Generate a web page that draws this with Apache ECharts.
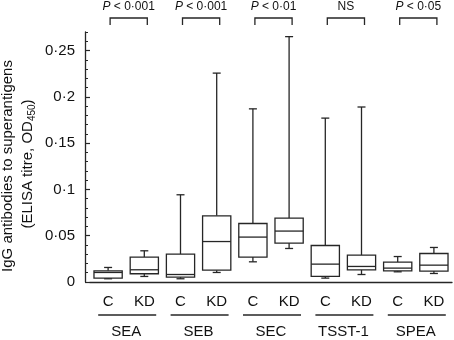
<!DOCTYPE html>
<html>
<head>
<meta charset="utf-8">
<script src="https://cdn.jsdelivr.net/npm/echarts@6/dist/echarts.min.js"></script>
<style>
  html, body { margin: 0; padding: 0; background: #fff; }
  #chart { width: 454px; height: 340px; }
</style>
</head>
<body>
<div id="chart"></div>
<script>
// categories along the x axis (control / Kawasaki disease for each antigen)
const categories = ['C', 'KD', 'C', 'KD', 'C', 'KD', 'C', 'KD', 'C', 'KD']
const groups = ['SEA', 'SEB', 'SEC', 'TSST-1', 'SPEA']
const pLabels = ['{i|P} < 0·001', '{i|P} < 0·001', '{i|P} < 0·01', 'NS', '{i|P} < 0·05']

// box statistics
const whiskerLow  = [0.0035, 0.0060, 0.0035, 0.0103, 0.0218, 0.0362, 0.0042, 0.0081, 0.0110, 0.0092]
const q1          = [0.0042, 0.0089, 0.0053, 0.0128, 0.0269, 0.0420, 0.0060, 0.0132, 0.0121, 0.0118]
const median      = [0.0103, 0.0132, 0.0081, 0.0437, 0.0485, 0.0550, 0.0193, 0.0168, 0.0150, 0.0182]
const q3          = [0.0121, 0.0269, 0.0301, 0.0715, 0.0632, 0.0690, 0.0394, 0.0290, 0.0215, 0.0308]
const whiskerHigh = [0.0157, 0.0337, 0.0942, 0.2256, 0.1870, 0.2650, 0.1770, 0.1890, 0.0275, 0.0373]

const yTicks = [0, 0.05, 0.1, 0.15, 0.2, 0.25]
const yMax = 0.27

const FONT = '"Liberation Sans", Arial, sans-serif'
const INK = '#262626'
const TEXT = '#111'

const boxData = categories.map((c, i) => [i, whiskerLow[i], q1[i], median[i], q3[i], whiskerHigh[i]])

function renderBox(params, api) {
  const x = api.value(0)
  const pLow = api.coord([x, api.value(1)])
  const pQ1 = api.coord([x, api.value(2)])
  const pMed = api.coord([x, api.value(3)])
  const pQ3 = api.coord([x, api.value(4)])
  const pHigh = api.coord([x, api.value(5)])
  const cx = pLow[0]
  const bw = api.size([1, 0])[0] * 0.78
  const cap = 4
  const st = { stroke: INK, lineWidth: 1.3, fill: null }
  return {
    type: 'group',
    children: [
      { type: 'line', shape: { x1: cx, y1: pQ3[1], x2: cx, y2: pHigh[1] }, style: st },
      { type: 'line', shape: { x1: cx - cap, y1: pHigh[1], x2: cx + cap, y2: pHigh[1] }, style: st },
      { type: 'line', shape: { x1: cx, y1: pQ1[1], x2: cx, y2: pLow[1] }, style: st },
      { type: 'line', shape: { x1: cx - cap, y1: pLow[1], x2: cx + cap, y2: pLow[1] }, style: st },
      { type: 'rect', shape: { x: cx - bw / 2, y: pQ3[1], width: bw, height: pQ1[1] - pQ3[1] },
        style: { stroke: INK, lineWidth: 1.3, fill: '#fff' } },
      { type: 'line', shape: { x1: cx - bw / 2, y1: pMed[1], x2: cx + bw / 2, y2: pMed[1] }, style: st }
    ]
  }
}

// significance brackets above each pair
function renderBracket(params, api) {
  const g = api.value(0)
  const a = api.coord([2 * g, yMax])
  const b = api.coord([2 * g + 1, yMax])
  const top = a[1]
  const x1 = a[0] + 2
  const x2 = b[0] + 3
  return {
    type: 'group',
    children: [
      { type: 'polyline', shape: { points: [[x1, top - 7], [x1, top - 14], [x2, top - 14], [x2, top - 7]] },
        style: { stroke: INK, lineWidth: 1.3, fill: null } },
      { type: 'text', style: {
          text: pLabels[g], x: (x1 + x2) / 2, y: top - 25, align: 'center', verticalAlign: 'middle',
          fontSize: 12, fontFamily: FONT, fill: TEXT,
          rich: { i: { fontStyle: 'italic', fontSize: 12, fontFamily: FONT, fill: TEXT } }
      } }
    ]
  }
}

// antigen names under the C / KD labels
function renderGroup(params, api) {
  const g = api.value(0)
  const a = api.coord([2 * g, 0])
  const b = api.coord([2 * g + 1, 0])
  const mid = (a[0] + b[0]) / 2
  const base = a[1]
  return {
    type: 'group',
    children: [
      { type: 'line', shape: { x1: mid - 28, y1: base + 33, x2: mid + 30, y2: base + 33 },
        style: { stroke: INK, lineWidth: 1.3 } },
      { type: 'text', style: {
          text: groups[g], x: mid, y: base + 49.5, align: 'center', verticalAlign: 'middle',
          fontSize: 15, fontFamily: FONT, fill: TEXT
      } }
    ]
  }
}

const chart = echarts.init(document.getElementById('chart'))

chart.setOption({
  animation: false,
  grid: { left: 90, right: 2, top: 32, bottom: 58 },
  xAxis: {
    type: 'category',
    data: categories,
    offset: 6,
    axisLine: { lineStyle: { color: INK, width: 1.3 } },
    axisTick: { inside: true, length: 4, alignWithLabel: true, lineStyle: { color: INK, width: 1.2 } },
    axisLabel: { interval: 0, margin: 6, fontSize: 15, fontFamily: FONT, color: TEXT }
  },
  yAxis: [
    {
      type: 'value', min: 0, max: yMax, interval: 0.05, position: 'left', offset: 5,
      axisLine: { show: true, lineStyle: { color: INK, width: 1.3 } },
      axisTick: { show: true, inside: true, length: 5, customValues: yTicks, lineStyle: { color: INK, width: 1.2 } },
      axisLabel: {
        customValues: yTicks, margin: 10, fontSize: 15, fontFamily: FONT, color: TEXT,
        formatter: v => v === 0 ? '0' : String(+v.toFixed(2)).replace('.', '·')
      },
      splitLine: { show: false }
    },
    {
      type: 'value', min: 0, max: yMax, interval: 0.01, position: 'left', offset: 5,
      axisLine: { show: false },
      axisTick: { show: true, inside: true, length: 3, lineStyle: { color: INK, width: 1 } },
      axisLabel: { show: false },
      splitLine: { show: false }
    }
  ],
  graphic: [
    { type: 'text', x: 8, y: 166, rotation: Math.PI / 2,
      style: { text: 'IgG antibodies to superantigens', align: 'center', verticalAlign: 'middle',
        fontSize: 15, fontFamily: FONT, fill: TEXT } },
    { type: 'text', x: 28, y: 164, rotation: Math.PI / 2,
      style: { text: '(ELISA titre, OD{s|450})', align: 'center', verticalAlign: 'middle',
        fontSize: 15, fontFamily: FONT, fill: TEXT, lineHeight: 18,
        rich: { s: { fontSize: 10, fontFamily: FONT, fill: TEXT, lineHeight: 10, verticalAlign: 'bottom' } } } }
  ],
  series: [
    {
      type: 'custom', name: 'box', renderItem: renderBox, data: boxData,
      encode: { x: 0, y: [1, 2, 3, 4, 5] }, silent: true
    },
    {
      type: 'custom', name: 'brackets', renderItem: renderBracket, clip: false, silent: true,
      data: groups.map((g, i) => [i, yMax]), encode: { x: 0, y: 1 }
    },
    {
      type: 'custom', name: 'groups', renderItem: renderGroup, clip: false, silent: true,
      data: groups.map((g, i) => [i, 0]), encode: { x: 0, y: 1 }
    }
  ]
})
</script>
</body>
</html>
